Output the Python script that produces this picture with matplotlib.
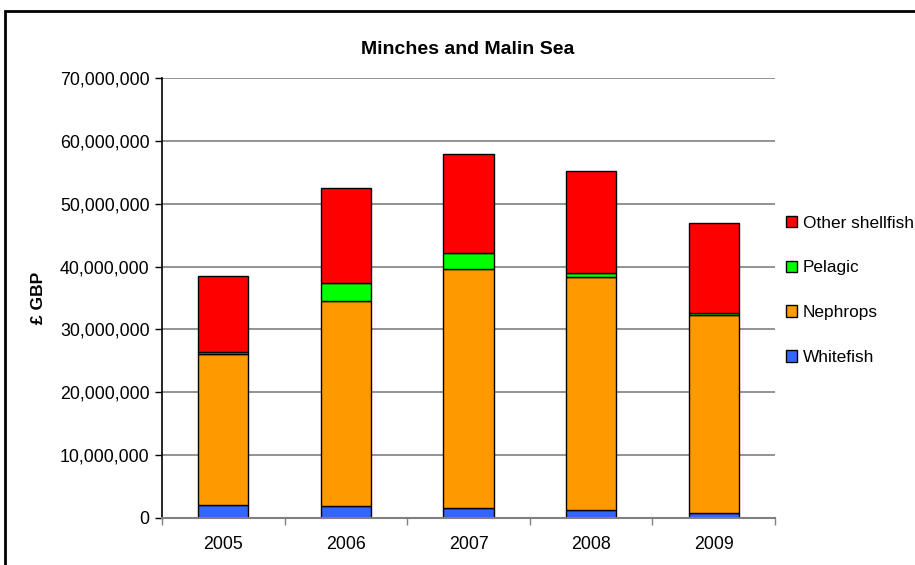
import matplotlib
matplotlib.use("Agg")
import matplotlib.pyplot as plt
from matplotlib.patches import Rectangle, Patch
from matplotlib.ticker import FuncFormatter, MultipleLocator

plt.rcParams['font.family'] = ['Liberation Sans', 'DejaVu Sans']

years = ["2005", "2006", "2007", "2008", "2009"]
whitefish = [2.0e6, 1.8e6, 1.6e6, 1.2e6, 0.8e6]
nephrops = [24.1e6, 32.8e6, 38.0e6, 37.2e6, 31.5e6]
pelagic = [0.3e6, 2.8e6, 2.6e6, 0.55e6, 0.25e6]
other_shellfish = [12.2e6, 15.1e6, 15.7e6, 16.35e6, 14.45e6]

series = [("Whitefish", whitefish, "#3366FF"),
          ("Nephrops", nephrops, "#FF9900"),
          ("Pelagic", pelagic, "#00FF00"),
          ("Other shellfish", other_shellfish, "#FF0000")]

fig = plt.figure(figsize=(9.15, 5.65), dpi=100)
W, H = 915, 565
ax = fig.add_axes([162 / W, (H - 517.7) / H, (775 - 162) / W, (517.7 - 78.5) / H])

x = list(range(len(years)))
bottom = [0.0] * len(years)
handles = []
for name, vals, col in series:
    ax.bar(x, vals, bottom=bottom, width=0.41, color=col, edgecolor="black", linewidth=1.0, zorder=3)
    bottom = [b + v for b, v in zip(bottom, vals)]
    handles.append(Patch(facecolor=col, edgecolor="black", linewidth=1.0, label=name))

ax.set_xlim(-0.5, len(years) - 0.5)
ax.set_ylim(0, 70e6)
ax.yaxis.set_major_locator(MultipleLocator(10e6))
ax.yaxis.set_major_formatter(FuncFormatter(lambda v, p: f"{int(round(v)):,}"))
ax.grid(axis="y", color="#808080", linewidth=1.2, zorder=0)
ax.set_xticks(x)
ax.set_xticklabels(years, fontsize=12.8)
ax.set_xticks([i + 0.5 for i in range(-1, len(years))], minor=True)
ax.tick_params(axis="x", which="major", length=0, pad=13)
ax.tick_params(axis="x", which="minor", length=5, width=1, color="#808080", direction="out")
ax.tick_params(axis="y", length=5, width=1, direction="out", labelsize=12.8, pad=4)

for s in ["top", "right"]:
    ax.spines[s].set_visible(False)
ax.spines["left"].set_color("black")
ax.spines["left"].set_linewidth(1.2)
ax.spines["bottom"].set_color("#808080")
ax.spines["bottom"].set_linewidth(1.5)
ax.spines["bottom"].set_zorder(4)

ax.set_ylabel("£ GBP", fontsize=12.5, fontweight="bold", labelpad=10)
fig.text(468 / W, 1 - 50 / H, "Minches and Malin Sea", ha="center", va="center",
         fontsize=14, fontweight="bold")

leg = fig.legend(handles=handles[::-1], loc="upper left", bbox_to_anchor=(777 / W, 1 - 207 / H),
                 frameon=False, fontsize=12.4, handlelength=0.65, handleheight=0.65,
                 handletextpad=0.35, labelspacing=1.73, borderpad=0)

fig.patches.append(Rectangle((5 / W, -0.05), 1.1, 1 - 11 / H + 0.05, transform=fig.transFigure,
                             fill=False, edgecolor="black", linewidth=2))

fig.savefig("out.png", dpi=100)
